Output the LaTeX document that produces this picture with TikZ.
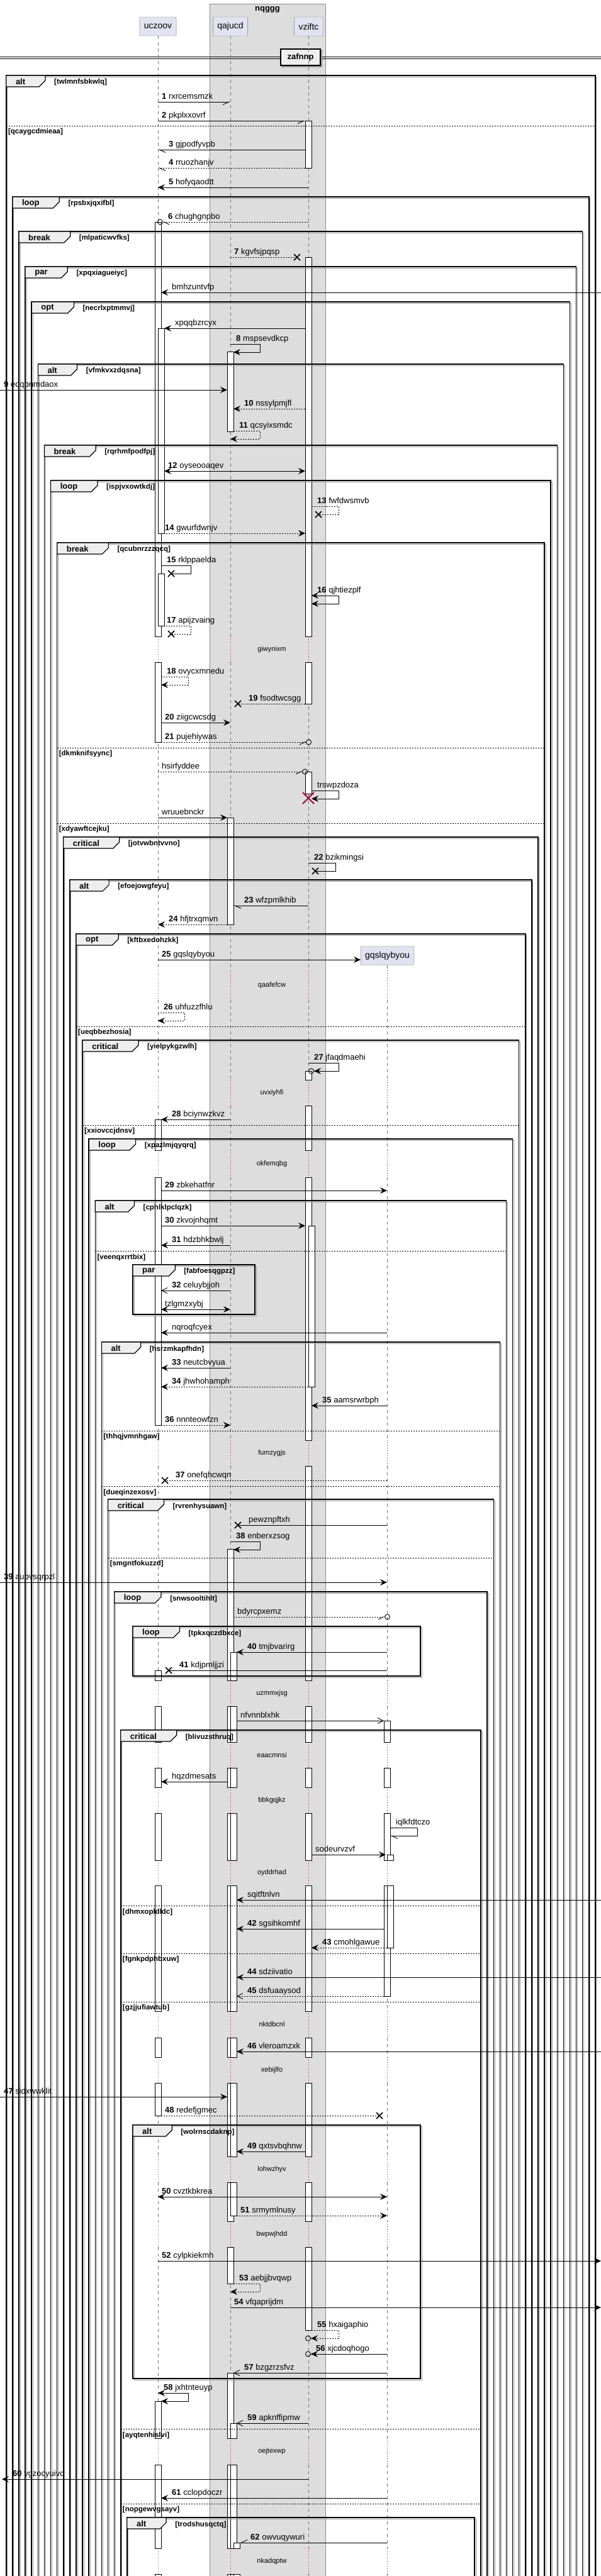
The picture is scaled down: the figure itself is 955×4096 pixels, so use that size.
\documentclass[tikz,border=0pt]{standalone}
\usepackage{fontspec}
\setmainfont{Liberation Sans}
\usetikzlibrary{arrows.meta}

\definecolor{partfill}{HTML}{E2E2F0}
\definecolor{boxfill}{HTML}{DDDDDD}
\definecolor{tabfill}{HTML}{EEEEEE}
\definecolor{dlyred}{HTML}{A80036}

\newcommand{\msgfont}{\fontsize{13}{15}\selectfont}
\newcommand{\kindfont}{\fontsize{13}{15}\selectfont\bfseries}
\newcommand{\guardfont}{\fontsize{11.5}{13}\selectfont\bfseries}
\newcommand{\partfont}{\fontsize{14}{16}\selectfont}
\newcommand{\dlyfont}{\fontsize{11}{13}\selectfont}
% widths of the group words
\def\twalt{15.2}\def\twloop{27.4}\def\twbreak{34.7}
\def\twpar{20.2}\def\twopt{20.2}\def\twcritical{41.9}

% group frame: top, left, right, bottom, kind, guard
\newcommand{\sqgrp}[6]{%
  \pgfmathsetmacro\tr{#2+\csname tw#5\endcsname+47}%
  \draw[grpshadow] (#2+2,#1+2) rectangle (#3+2,#4+2);
  \draw[grpline] (#2,#1) rectangle (#3,#4);
  \draw[grptab] (#2,#1) -- (\tr,#1) -- (\tr,#1+8) -- (\tr-10,#1+18) -- (#2,#1+18) -- cycle;
  \node[grpkind] (k#1) at (#2+15,#1+10) {#5};
  \node[grpguard] (g#1) at (\tr+14,#1+11) {[#6]};}
% else line: y, left, right, guard
\newcommand{\sqsep}[4]{%
  \draw[sepline] (#2,#1) -- (#3,#1);
  \node[grpguard] (s#1) at (#2+3,#1+10) {[#4]};}
% message: y, from, to, number, text
\newcommand{\sqmsg}[6][]{%
  \draw[msgline,#1] (#3,#2) -- (#4,#2);
  \pgfmathsetmacro\lx{#3<#4 ? #3+6 : #4+17}%
  \node[msglabel] (m#2) at (\lx,#2-5) {\if\relax\detokenize{#5}\relax\else\textbf{#5} \fi#6};}
% self message: y, start, right, end, number, text
\newcommand{\sqself}[7][]{%
  \draw[msgline,#1] (#3,#2) -- (#4,#2) -- (#4,#2+13) -- (#5,#2+13);
  \node[msglabel] (m#2) at (#3+9,#2-5) {\if\relax\detokenize{#6}\relax\else\textbf{#6} \fi#7};}
\newcommand{\sqx}[2]{\draw[xmark] (#1-5,#2-5) -- (#1+5,#2+5) (#1-5,#2+5) -- (#1+5,#2-5);}

\begin{document}
\begin{tikzpicture}[x=1pt, y=-1pt,
  life/.style={black!55, dash pattern=on 5pt off 5pt, line width=.6pt},
  lifedot/.style={dlyred, dash pattern=on 1pt off 3pt, line width=.8pt},
  actbox/.style={draw, fill=white, line width=.8pt},
  msgline/.style={line width=.9pt},
  dsh/.style={dash pattern=on 2pt off 2pt},
  full/.style={-{Stealth[length=11pt,width=10pt,inset=4pt]}},
  bi/.style={{Stealth[length=11pt,width=10pt,inset=4pt]}-{Stealth[length=11pt,width=10pt,inset=4pt]}},
  opn/.style={-{Straight Barb[length=9pt,width=9pt]}},
  barbR/.style={-{Straight Barb[right,length=10pt,width=9pt]}},
  barbL/.style={-{Straight Barb[left,length=10pt,width=9pt]}},
  ocircr/.style={-{Straight Barb[right,length=8pt,width=8pt] Circle[open,length=9pt]}},
  ocircl/.style={-{Straight Barb[left,length=8pt,width=8pt] Circle[open,length=9pt]}},
  ocircf/.style={-{Stealth[length=11pt,width=10pt,inset=4pt] Circle[open,length=9pt]}},
  xmark/.style={line width=1.5pt},
  msglabel/.style={anchor=base west, inner sep=0pt, font=\msgfont},
  part/.style={draw=black!50, fill=partfill, minimum height=30pt, inner xsep=7pt, rounded corners=2pt, font=\partfont},
  grpline/.style={line width=1.5pt},
  grpshadow/.style={black!40, line width=1pt},
  grptab/.style={fill=tabfill, line width=1.2pt},
  grpkind/.style={anchor=west, inner sep=0pt, font=\kindfont},
  grpguard/.style={anchor=west, inner sep=0pt, font=\guardfont},
  sepline/.style={line width=1pt, dash pattern=on 2pt off 2pt},
  dlytext/.style={font=\dlyfont, inner sep=0pt}]
\useasboundingbox (0,0) rectangle (955,4096);

%box and divider
\draw[fill=boxfill, draw=black!45] (333,6) rectangle (517,4120);
\node[font=\kindfont] (nqggg) at (425,15) {nqggg};
\draw[line width=1pt] (0,90) -- (955,90) (0,93.5) -- (955,93.5);
\draw[black!40, line width=2pt] (448,80) rectangle (511,106);
\node[draw, fill=tabfill, line width=1.5pt, minimum width=63pt, minimum height=26pt, inner sep=0pt, font=\kindfont] (zafnnp) at (477.5,91) {zafnnp};

%lifelines
\foreach \ya/\yb in {57/1012,1053/1543,1590/1717,1758/1829,1872/2290,2331/2672,2713/2770,2811/2842,2883/2958,2998/3198,3240/3271,3312/3429,3470/3532,3573/3877,3919/4052,4093/4110}
  \foreach \x in {251,366,490}
    \draw[life] (\x,\ya) -- (\x,\yb);
\foreach \ya/\yb in {1535/1543,1590/1717,1758/1829,1872/2290,2331/2672,2713/2770,2811/2842,2883/2958,2998/3198,3240/3271,3312/3429,3470/3532,3573/3877,3919/4052,4093/4110}
  \draw[life] (615,\ya) -- (615,\yb);

%delays
\foreach \ya/\yb/\txt in {1012/1053/giwynixm, 1543/1590/qaafefcw, 1717/1758/uvxiyhfi, 1829/1872/okfemqbg, 2290/2331/fumzygjs, 2672/2713/uzmmxjsg, 2770/2811/eaacmnsi, 2842/2883/bbkgqjkz, 2958/2998/oyddrhad, 3198/3240/nktdbcnl, 3271/3312/xebijlfo, 3429/3470/lohwzhyv, 3532/3573/bwpwjhdd, 3877/3919/oejtexwp, 4052/4093/nkadqptw}{
  \draw[lifedot, black!60] (251,\ya) -- (251,\yb);
  \foreach \x in {366,490} \draw[lifedot] (\x,\ya) -- (\x,\yb);
  \ifnum\ya>1500 \draw[lifedot] (615,\ya) -- (615,\yb); \fi
  \node[dlytext] (d\ya) at (432,{(\ya+\yb)/2}) {\txt};
}

%activations
\foreach \x/\ya/\yb in {246/353/1012, 246/1053/1180, 251/522/848, 251/912/995,
  246/1780/1829, 246/1872/2266, 246/2656/2672, 246/2713/2770, 246/2811/2842, 246/2883/2958, 246/2998/3198, 246/3240/3271, 246/3312/3364,
  246/3818/3877, 246/3919/4052, 246/4093/4110,
  361/559/686, 361/1300/1470,
  361/2463/2672, 361/2713/2770, 361/2811/2842, 361/2883/2958, 361/2998/3198, 361/3240/3271, 361/3312/3429, 361/3470/3532, 361/3573/3631,
  366/2627/2672, 366/2713/2770, 366/2811/2842, 366/2883/2958, 366/2998/3198, 366/3240/3271, 366/3312/3429, 366/3470/3523,
  361/3773/3877, 361/3919/4052, 361/4093/4110, 366/3853/3877, 366/3919/4052, 366/4093/4110, 371/4043/4052, 371/4093/4110,
  485/192/267, 485/409/1012, 485/1053/1119, 485/1227/1262,
  485/1703/1717, 485/1758/1829, 485/1872/2290, 485/2331/2672, 485/2713/2770, 485/2811/2842, 485/2883/2958, 485/2998/3198, 485/3240/3271, 485/3312/3429, 485/3470/3532, 485/3573/3705,
  490/1949/2205,
  610/2736/2770, 610/2811/2842, 610/2883/2958, 610/2998/3174, 615/2949/2958, 615/2998/3097}
  \draw[actbox] (\x,\ya) rectangle (\x+10,\yb);

%nested groups
\foreach \k/\gt/\kind/\gd in {0/120/alt/twlmnfsbkwlq, 1/313/loop/rpsbxjqxifbl, 2/368/break/mlpaticwvfks, 3/424/par/xpqxiagueiyc, 4/480/opt/necrlxptmmvj, 5/579/alt/vfmkvxzdqsna, 6/708/break/rqrhmfpodfpj, 7/764/loop/ispjvxowtkdj, 8/863/break/qcubnrzzzqcq, 9/1331/critical/jotvwbntvvno, 10/1399/alt/efoejowgfeyu, 11/1485/opt/kftbxedohzkk, 12/1654/critical/yielpykgzwlh, 13/1811/loop/xpazlmjqyqrq, 14/1909/alt/cphlklpclqzk, 15/2134/alt/hsrzmkapfhdn, 16/2384/critical/rvrenhysuawn, 17/2531/loop/snwsooltihlt, 18/2751/critical/blivuzsthruq, 19/4003/alt/trodshusqctq}{
  \pgfmathsetmacro\gl{9.8+10.11*\k}
  \pgfmathsetmacro\gr{945.9-10.1*\k}
  \sqgrp{\gt}{\gl}{\gr}{4120}{\kind}{\gd}
}
\foreach \y/\k/\gd in {200/0/qcaygcdmieaa, 1189/8/dkmknifsyync, 1309/8/xdyawftcejku, 1632/11/ueqbbezhosia, 1789/12/xxiovccjdnsv, 1989/14/veenqxrrtbix, 2275/15/thhqjvmnhgaw, 2363/15/dueqinzexosv, 2477/16/smgntfokuzzd, 3030/18/dhmxopldldc, 3106/18/fgnkpdphbxuw, 3183/18/gzjjufiawtub, 3862/18/ayqtenhislvi, 3981/18/nopgewvgsayv}{
  \pgfmathsetmacro\gl{9.8+10.11*\k}
  \pgfmathsetmacro\gr{945.9-10.1*\k}
  \sqsep{\y}{\gl}{\gr}{\gd}
}
\sqgrp{2011}{211}{405}{2090}{par}{fabfoesqgpzz}
\sqgrp{2586}{211}{668}{2665}{loop}{tpkxqczdbxce}
\sqgrp{3379}{211}{668}{3782}{alt}{wolrnscdaknp}

%messages
\sqmsg[barbR]{162}{251}{366}{1}{rxrcemsmzk}
\sqmsg[barbR]{192}{251}{485}{2}{pkplxxovrf}
\sqmsg[barbL]{238}{485}{251}{3}{gjpodfyvpb}
\sqmsg[dsh,barbL]{267}{485}{251}{4}{rruozhanjv}
\sqmsg[full]{298}{490}{251}{5}{hofyqaodtt}
\sqmsg[dsh,ocircl]{353}{490}{250}{6}{chughgnpbo}
\sqmsg[dsh]{409}{366}{472}{7}{kgvfsjpqsp} \sqx{472}{409}
\sqmsg[full]{465}{955}{256}{}{bmhzuntvfp}
\sqmsg[full]{522}{485}{261}{}{xpqqbzrcyx}
\sqself[full]{547}{366}{413}{371}{8}{mspsevdkcp}
\sqmsg[full]{620}{0}{361}{9}{edqpnmdaox}
\sqmsg[dsh,full]{650}{485}{371}{10}{nssylpmjfl}
\sqself[dsh,full]{685}{371}{413}{366}{11}{qcsyixsmdc}
\sqmsg[bi]{749}{261}{485}{12}{oyseooaqev}
\sqself[dsh]{805}{495}{538}{506}{13}{fwfdwsmvb} \sqx{506}{818}
\sqmsg[dsh,full]{848}{256}{485}{14}{gwurfdwnjv}
\sqself{899}{256}{303}{272}{15}{rklppaelda} \sqx{272}{912}
\sqself[bi]{947}{495}{538}{495}{16}{qjhtiezplf}
\sqself[dsh]{995}{256}{303}{272}{17}{apijzvaing} \sqx{272}{1008}
\sqself[dsh,full]{1076}{256}{299}{256}{18}{ovycxmnedu}
\sqmsg[dsh]{1119}{485}{378}{19}{fsodtwcsgg} \sqx{378}{1119}
\sqmsg[full]{1149}{256}{366}{20}{ziigcwcsdg}
\sqmsg[dsh,ocircr]{1180}{256}{495}{21}{pujehiywas}
\sqmsg[dsh,ocircr]{1227}{251}{489}{}{hsirfyddee}
\sqself[full]{1257}{495}{538}{495}{}{trswpzdoza}
\draw[dlyred, line width=2pt] (481,1260) -- (499,1278) (481,1278) -- (499,1260);
\sqmsg[full]{1300}{251}{361}{}{wruuebnckr}
\sqself{1372}{490}{533}{501}{22}{bzikmingsi} \sqx{501}{1385}
\sqmsg[barbL]{1440}{490}{371}{23}{wfzpmlkhib}
\sqmsg[dsh,full]{1470}{361}{251}{24}{hfjtrxqmvn}
\sqmsg[full]{1526}{251}{573}{25}{gqslqybyou}
\sqself[dsh,full]{1610}{251}{293}{251}{26}{uhfuzzfhlu}
\sqself[ocircf]{1690}{490}{538}{490}{27}{jfaqdmaehi}
\sqmsg[full]{1780}{366}{256}{28}{bciynwzkvz}
\sqmsg[full]{1893}{256}{615}{29}{zbkehatfnr}
\sqmsg[full]{1949}{256}{485}{30}{zkvojnhqmt}
\sqmsg[full]{1980}{366}{256}{31}{hdzbhkbwlj}
\sqmsg[opn]{2052}{366}{256}{32}{celuybjjoh}
\sqmsg[bi]{2082}{256}{366}{}{tzlgmzxybj}
\sqmsg[full]{2119}{615}{256}{}{nqroqfcyex}
\sqmsg[full]{2175}{366}{256}{33}{neutcbvyua}
\sqmsg[dsh,full]{2205}{490}{256}{34}{jhwhohamph}
\sqmsg[full]{2235}{615}{495}{35}{aamsrwrbph}
\sqmsg[dsh,full]{2266}{256}{366}{36}{nnnteowfzn}
\sqmsg[dsh]{2354}{615}{262}{37}{onefqhcwqn} \sqx{262}{2354}
\sqmsg{2425}{615}{378}{}{pewznpftxh} \sqx{378}{2425}
\sqself[full]{2451}{366}{413}{371}{38}{enberxzsog}
\sqmsg[full]{2516}{0}{615}{39}{aupvsqrpzl}
\sqmsg[dsh,ocircr]{2571}{371}{620}{}{bdyrcpxemz}
\sqmsg[full]{2627}{615}{376}{40}{tmjbvarirg}
\sqmsg{2656}{615}{268}{41}{kdjpmljjzi} \sqx{268}{2656}
\sqmsg[opn]{2736}{376}{610}{}{nfvnnblxhk}
\sqmsg[full]{2833}{361}{256}{}{hqzdmesats}
\sqself[barbL]{2906}{620}{663}{620}{}{iqlkfdtczo}
\sqmsg[full]{2949}{495}{613}{}{sodeurvzvf}
\sqmsg[full]{3021}{955}{376}{}{sqitftnlvn}
\sqmsg[full]{3067}{610}{376}{42}{sgsihkomhf}
\sqmsg[dsh,full]{3097}{615}{495}{43}{cmohlgawue}
\sqmsg[full]{3144}{955}{376}{44}{sdziivatio}
\sqmsg[dsh,opn]{3174}{610}{376}{45}{dsfuaaysod}
\sqmsg[full]{3262}{955}{376}{46}{vleroamzxk}
\sqmsg[full]{3334}{0}{361}{47}{sidxwwklit}
\sqmsg[dsh]{3364}{256}{603}{48}{redefjgmec} \sqx{603}{3364}
\sqmsg[full]{3421}{485}{376}{49}{qxtsvbqhnw}
\sqmsg[bi]{3493}{251}{615}{50}{cvztkbkrea}
\sqmsg[dsh,full]{3523}{376}{615}{51}{srmymlnusy}
\sqmsg[full]{3595}{251}{955}{52}{cylpkiekmh}
\sqself[dsh,full]{3631}{371}{413}{366}{53}{aebjjbvqwp}
\sqmsg[full]{3669}{366}{955}{54}{vfqaprijdm}
\sqself[dsh,ocircf]{3705}{495}{538}{485}{55}{hxaigaphio}
\sqmsg[ocircf]{3743}{615}{485}{56}{xjcdoqhogo}
\sqmsg[opn]{3773}{615}{371}{57}{bzgzrzsfvz}
\sqself[bi]{3805}{251}{299}{256}{58}{jxhtnteuyp}
\sqmsg[opn]{3853}{490}{376}{59}{apknffipmw}
\sqmsg[full]{3942}{490}{3}{60}{vgzocyuivq}
\sqmsg[full]{3972}{615}{256}{61}{cclopdoczr}
\sqmsg[barbR]{4043}{615}{381}{62}{owvuqywuri}

%participants
\node[part] (uczoov) at (251,42) {uczoov};
\node[part] (qajucd) at (366,42) {qajucd};
\node[part] (vziftc) at (490.5,42) {vziftc};
\node[part] (gqslqybyou) at (615.5,1519.5) {gqslqybyou};
\end{tikzpicture}
\end{document}
